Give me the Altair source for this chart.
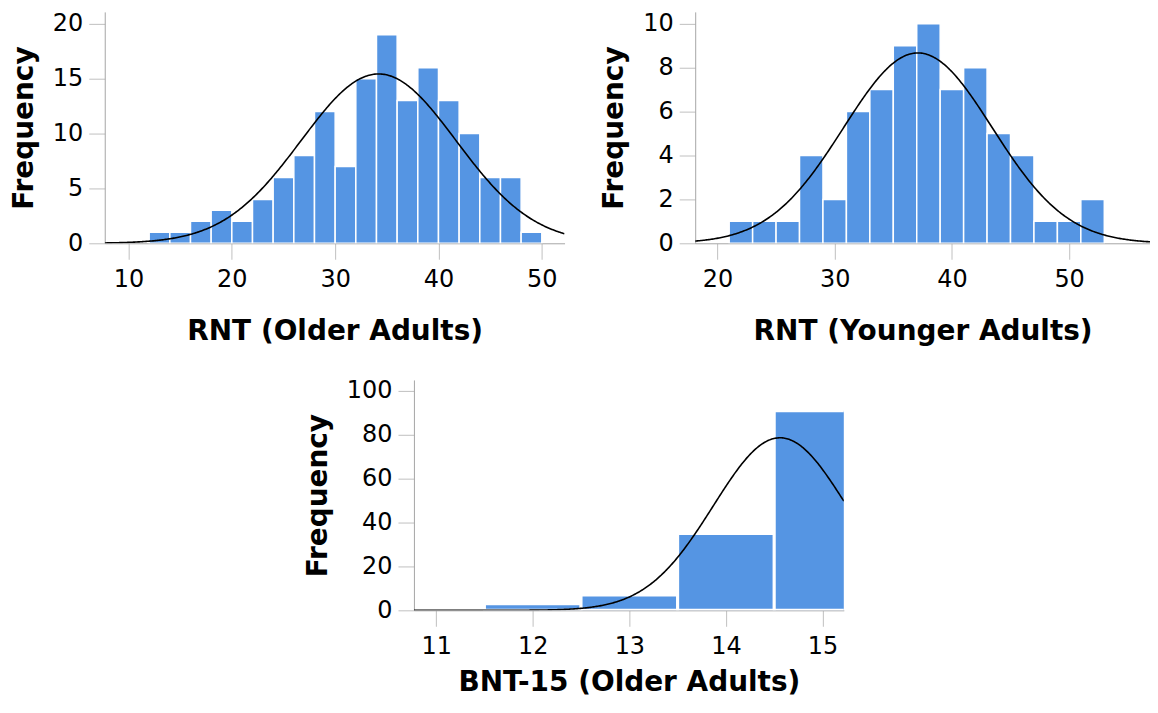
import altair as alt
import pandas as pd

BAR_COLOR = "#5595e3"

# RNT (Older Adults): bin lower edges (bin width 2) and frequencies
old_bin_start = [12, 14, 16, 18, 20, 22, 24, 26, 28, 30, 32, 34, 36, 38, 40, 42, 44, 46, 48]
old_counts = [1, 1, 2, 3, 2, 4, 6, 8, 12, 7, 15, 19, 13, 16, 13, 10, 6, 6, 1]
old_mean, old_sd = 34.2, 7.5

# RNT (Younger Adults)
young_bin_start = [21, 23, 25, 27, 29, 31, 33, 35, 37, 39, 41, 43, 45, 47, 49, 51]
young_counts = [1, 1, 1, 4, 2, 6, 7, 9, 10, 7, 8, 5, 4, 1, 1, 2]
young_mean, young_sd = 37.1, 6.35

# BNT-15 (Older Adults): bin width 1
bnt_bin_start = [11.5, 12.5, 13.5, 14.5]
bnt_counts = [3, 7, 35, 91]
bnt_mean, bnt_sd = 14.56, 0.69


def panel(starts, counts, bw, mean, sd, xdom, xticks, ydom, yticks, xtitle,
          w, h, stroke_w, x_title_pad):
    df = pd.DataFrame({"lo": starts, "hi": [s + bw for s in starts],
                       "n": counts, "base": [0] * len(starts)})
    n = sum(counts)
    xs = alt.Scale(domain=xdom, nice=False, zero=False)
    ys = alt.Scale(domain=ydom, nice=False)
    xa = alt.Axis(values=xticks, title=xtitle, titlePadding=x_title_pad, format="d")
    ya = alt.Axis(values=yticks, title="Frequency", format="d")
    bars = alt.Chart(df).mark_rect(
        color=BAR_COLOR, stroke="white", strokeWidth=stroke_w, clip=True
    ).encode(
        x=alt.X("lo:Q", scale=xs, axis=xa),
        x2="hi:Q",
        y=alt.Y("n:Q", scale=ys, axis=ya),
        y2="base:Q",
    )
    step = (xdom[1] - xdom[0]) / 400
    curve = alt.Chart(alt.sequence(xdom[0], xdom[1] + step, step, as_="x")).transform_calculate(
        d=f"{n * bw}/({sd}*sqrt(2*PI))*exp(-0.5*pow((datum.x-{mean})/{sd},2))"
    ).mark_line(color="black", strokeWidth=1.6, clip=True).encode(
        x=alt.X("x:Q", scale=xs, axis=xa),
        y=alt.Y("d:Q", scale=ys, axis=ya),
    )
    return alt.layer(bars, curve).properties(width=w, height=h)


p1 = panel(old_bin_start, old_counts, 2, old_mean, old_sd, [7.7, 52.2],
           [10, 20, 30, 40, 50], [0, 21.08], [0, 5, 10, 15, 20],
           "RNT (Older Adults)", 461, 232, 1.5, 26)
p2 = panel(young_bin_start, young_counts, 2, young_mean, young_sd, [18.1, 56.9],
           [20, 30, 40, 50], [0, 10.54], [0, 2, 4, 6, 8, 10],
           "RNT (Younger Adults)", 456, 232, 1.5, 26)
p3 = panel(bnt_bin_start, bnt_counts, 1, bnt_mean, bnt_sd, [10.77, 15.22],
           [11, 12, 13, 14, 15], [0, 105], [0, 20, 40, 60, 80, 100],
           "BNT-15 (Older Adults)", 431, 231, 3, 10)

spacer = alt.Chart(pd.DataFrame({"v": [0]})).mark_point(opacity=0).encode(
    x=alt.X("v:Q", axis=None), y=alt.Y("v:Q", axis=None)
).properties(width=200, height=10)

top = alt.hconcat(p1, p2, spacing=36)
bottom = alt.hconcat(spacer, p3, spacing=0)

chart = alt.vconcat(top, bottom, spacing=34).properties(
    padding={"left": 2, "top": 2, "right": 0, "bottom": 0}
).configure_view(
    stroke=None
).configure_axis(
    labelFont="DejaVu Sans", labelFontSize=24, labelColor="black",
    titleFont="DejaVu Sans", titleFontSize=28, titleFontWeight="bold", titleColor="black",
    domainColor="#a6a6a6", tickColor="#c0c0c0", tickSize=16, grid=False,
    labelPadding=6,
).configure_axisX(labelPadding=8).configure_axisY(titlePadding=14)

chart.save("out.html", embed_options={"renderer": "svg", "actions": False})
